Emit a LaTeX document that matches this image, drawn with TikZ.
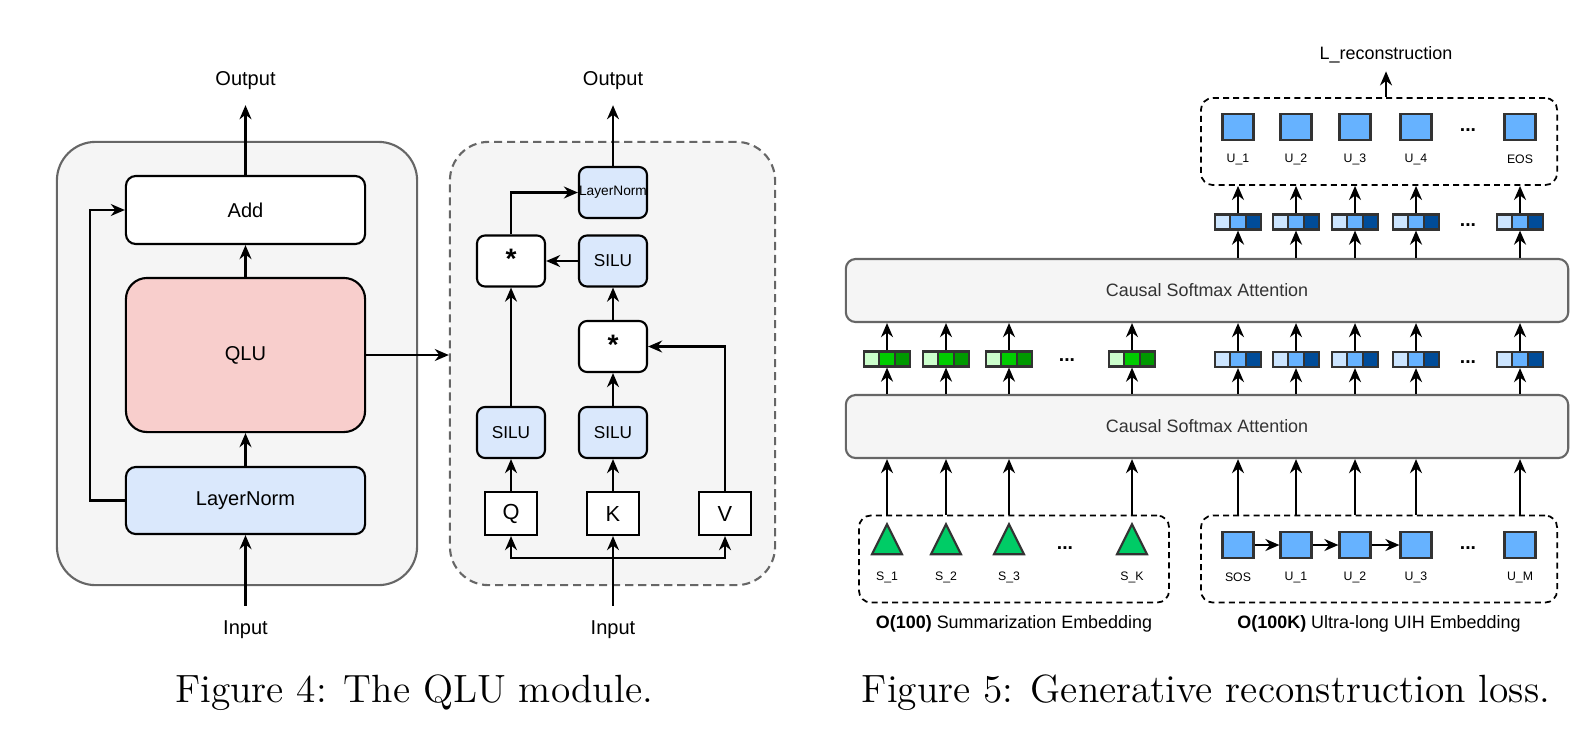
\documentclass[tikz,border=0pt]{standalone}
\usepackage{fontspec}
\usepackage{tikz}
\usetikzlibrary{arrows.meta,calc,shapes.geometric}

\newfontfamily\dfont{Liberation Sans}

\definecolor{boxgray}{HTML}{F5F5F5}
\definecolor{edgegray}{HTML}{666666}
\definecolor{txtgray}{HTML}{333333}
\definecolor{lnblue}{HTML}{DAE8FC}
\definecolor{qlupink}{HTML}{F8CECC}
\definecolor{sqblue}{HTML}{66B2FF}
\definecolor{vb1}{HTML}{CCE5FF}
\definecolor{vb2}{HTML}{66B2FF}
\definecolor{vb3}{HTML}{004C99}
\definecolor{vg1}{HTML}{CCFFCC}
\definecolor{vg2}{HTML}{00CC00}
\definecolor{vg3}{HTML}{009900}
\definecolor{trigreen}{HTML}{00CC66}

\begin{document}
\begin{tikzpicture}[
            x = 0.01cm, y = -0.01cm, % one unit per pixel, y pointing down
            > = {Stealth[length=4pt, width=3.4pt, inset=1.3pt]}, % arrow head style
            line width = 0.6pt, % line style
            font = \dfont\fontsize{5.7}{6.8}\selectfont,
            panel/.style = {draw=edgegray, fill=boxgray, rounded corners=11pt, minimum height=4.43cm},
            blk/.style = {draw=black, rounded corners=2.8pt, minimum width=2.39cm},
            opbox/.style = {draw=black, rounded corners=2.3pt, inner sep=0pt, minimum width=0.68cm, minimum height=0.51cm},
            mulbox/.style = {opbox, fill=white, font=\dfont\bfseries\fontsize{8}{9}\selectfont, text depth=1.1pt},
            silubox/.style = {opbox, fill=lnblue, font=\dfont\fontsize{4.9}{5.9}\selectfont},
            qkv/.style = {draw=black, fill=white, inner sep=0pt, minimum width=0.52cm, minimum height=0.43cm, font=\dfont\fontsize{6.2}{7.4}\selectfont},
            iolabel/.style = {inner sep=4pt},
            attnbox/.style = {draw=edgegray, fill=boxgray, text=txtgray, rounded corners=2.8pt, minimum width=7.22cm, minimum height=0.63cm, font=\dfont\fontsize{5.1}{6.1}\selectfont},
            groupbox/.style = {draw=black, line width=0.5pt, dash pattern=on 1.7pt off 1.2pt, rounded corners=3.4pt, minimum height=0.87cm},
            uihsq/.style = {draw=black!80, fill=sqblue, inner sep=0pt, minimum width=0.31cm, minimum height=0.26cm},
            sumtri/.style = {shape=isosceles triangle, shape border rotate=90, isosceles triangle stretches, draw=black!80, fill=trigreen, inner sep=0pt, minimum width=0.30cm, minimum height=0.30cm},
            featvec/.style n args = {3}{draw=black!80, inner sep=0pt, minimum width=0.46cm, minimum height=0.15cm,
                path picture = {
                    \coordinate (vsw) at (path picture bounding box.south west);
                    \coordinate (vne) at (path picture bounding box.north east);
                    \fill[#1] (vsw) rectangle ($(vsw |- vne)!1/3!(vne)$);
                    \fill[#2] ($(vsw)!1/3!(vsw -| vne)$) rectangle ($(vsw |- vne)!2/3!(vne)$);
                    \fill[#3] ($(vsw)!2/3!(vsw -| vne)$) rectangle (vne);
                    \draw[black!80] ($(vsw)!1/3!(vsw -| vne)$) -- ($(vsw |- vne)!1/3!(vne)$)
                                    ($(vsw)!2/3!(vsw -| vne)$) -- ($(vsw |- vne)!2/3!(vne)$);
                }},
            bluevec/.style = {featvec={vb1}{vb2}{vb3}},
            greenvec/.style = {featvec={vg1}{vg2}{vg3}},
            smalltag/.style = {font=\dfont\fontsize{3.5}{4.2}\selectfont},
            grpcap/.style = {font=\dfont\fontsize{5.1}{6.1}\selectfont},
            ellip/.style = {font=\dfont\bfseries\fontsize{5.5}{6.6}\selectfont},
            figcap/.style = {font=\rmfamily\fontsize{11.2}{13.4}\selectfont}
        ]
\useasboundingbox (0,0) rectangle (1592,742);

% Figure 4
\node[panel, minimum width=3.60cm] (blockbox) at (237,363.5) {};
\node[panel, minimum width=3.25cm, dash pattern=on 2.3pt off 1.4pt] (qlubox) at (612.5,363.5) {};

\node[blk, fill=white, minimum height=0.68cm] (add) at (245.5,210) {Add};
\node[blk, fill=qlupink, rounded corners=6pt, minimum height=1.54cm] (qlu) at (245.5,355) {QLU};
\node[blk, fill=lnblue, minimum height=0.67cm] (ln1) at (245.5,500.5) {LayerNorm};
\node[iolabel] (out1) at (245.5,81) {Output};
\node[iolabel] (in1) at (245.5,630) {Input};

\node[silubox, font=\dfont\fontsize{3.9}{4.7}\selectfont] (ln2) at (613,192.5) {LayerNorm};
\node[mulbox] (mul1) at (511,261) {*};
\node[silubox] (silu3) at (613,261) {SILU};
\node[mulbox] (mul2) at (613,346.5) {*};
\node[silubox] (siluq) at (511,432.5) {SILU};
\node[silubox] (siluk) at (613,432.5) {SILU};
\node[qkv] (q) at (511,513.5) {Q};
\node[qkv] (k) at (613,513.5) {K};
\node[qkv] (v) at (725,513.5) {V};
\node[iolabel] (out2) at (613,81) {Output};
\node[iolabel] (in2) at (613,630) {Input};
\coordinate (split) at (613,558);

\path [->] (in1) edge (ln1);
\path [->] (ln1) edge (qlu);
\path [->] (qlu) edge (add);
\path [->] (add) edge (out1);
\draw [->] (ln1.west) -- ++(-35,0) |- (add.west);
\draw [->] (qlu.east) -- (qlu.east -| qlubox.west);

\path [->] (q) edge (siluq);
\path [->] (k) edge (siluk);
\path [->] (siluk) edge (mul2);
\path [->] (mul2) edge (silu3);
\path [->] (siluq) edge (mul1);
\path [->] (silu3) edge (mul1);
\path [->] (ln2) edge (out2);
\draw [->] (mul1.north) |- (ln2.west);
\draw [->] (v.north) |- (mul2.east);
\path [->] (in2) edge (k);
\draw [->] (split) -| (q.south);
\draw [->] (split) -| (v.south);

% Figure 5
\node[groupbox, minimum width=3.56cm] (recbox) at (1379,141.5) {};
\node[groupbox, minimum width=3.10cm] (sumbox) at (1014,559) {};
\node[groupbox, minimum width=3.56cm] (uihbox) at (1379,559) {};
\node[attnbox] (attn2) at (1207,290.5) {Causal Softmax Attention};
\node[attnbox] (attn1) at (1207,426.5) {Causal Softmax Attention};
\node[grpcap, inner sep=2pt] (lrec) at (1386,55) {L\_reconstruction};
\node[grpcap] (sumcap) at (1014,624) {\textbf{O(100)} Summarization Embedding};
\node[grpcap] (uihcap) at (1379,624) {\textbf{O(100K)} Ultra-long UIH Embedding};

\foreach \x/\i/\toplab/\botlab in {1238/1/U\_1/SOS, 1296/2/U\_2/U\_1, 1355/3/U\_3/U\_2, 1416/4/U\_4/U\_3, 1520/5/EOS/U\_M} {
    \node[uihsq] (tsq\i) at (\x,127) {};
    \node[smalltag] (tlab\i) at (\x,159) {\toplab};
    \node[bluevec] (tv\i) at (\x,222) {};
    \node[bluevec] (mv\i) at (\x,359.5) {};
    \node[uihsq] (bsq\i) at (\x,545) {};
    \node[smalltag] (blab\i) at (\x,577) {\botlab};
    \path [->] (uihbox.north -| bsq\i) edge (attn1.south -| bsq\i);
    \path [->] (attn1.north -| mv\i) edge (mv\i);
    \path [->] (mv\i) edge (attn2.south -| mv\i);
    \path [->] (attn2.north -| tv\i) edge (tv\i);
    \path [->] (tv\i) edge (recbox.south -| tv\i);
}
\foreach \i/\j in {1/2, 2/3, 3/4} \path [->] (bsq\i) edge (bsq\j);

\foreach \x/\i/\lab in {887/1/S\_1, 946/2/S\_2, 1009/3/S\_3, 1132/4/S\_K} {
    \node[sumtri] (tri\i) at (\x,545) {};
    \node[smalltag] (slab\i) at (\x,577) {\lab};
    \node[greenvec] (gv\i) at (\x,359) {};
    \path [->] (sumbox.north -| tri\i) edge (attn1.south -| tri\i);
    \path [->] (attn1.north -| gv\i) edge (gv\i);
    \path [->] (gv\i) edge (attn2.south -| gv\i);
}
\path [->] (recbox.north -| lrec) edge (lrec);

\node[ellip] (tdots) at (1468,130) {...};
\node[ellip] (udots) at (1468,225) {...};
\node[ellip] (mdots) at (1468,362) {...};
\node[ellip] (gdots) at (1067,360) {...};
\node[ellip] (sdots) at (1065,548) {...};
\node[ellip] (bdots) at (1468,548) {...};

\node[figcap] (cap4) at (414,693) {Figure 4: The QLU module.};
\node[figcap] (cap5) at (1206,693) {Figure 5: Generative reconstruction loss.};
\end{tikzpicture}
\end{document}
